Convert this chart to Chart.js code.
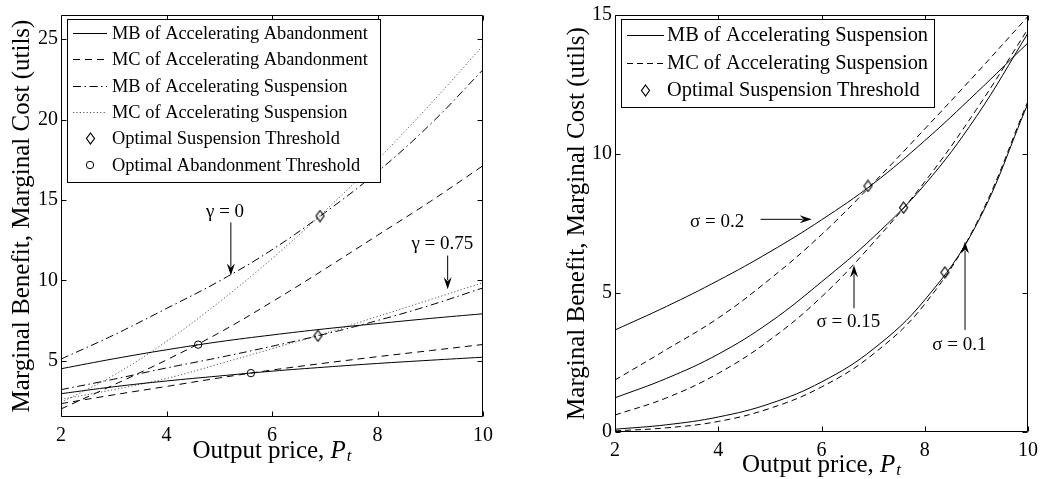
<!DOCTYPE html>
<html>
<head>
<meta charset="utf-8">
<script src="https://cdn.jsdelivr.net/npm/chart.js@4.4.1/dist/chart.umd.min.js"></script>
<style>
html,body{margin:0;padding:0;background:#fff;}
#wrap{position:relative;width:1045px;height:479px;overflow:hidden;}
#left{position:absolute;left:0;top:0;}
#right{position:absolute;left:540px;top:0;}
</style>
</head>
<body>
<div id="wrap">
<canvas id="left" width="520" height="479"></canvas>
<canvas id="right" width="505" height="479"></canvas>
</div>
<script>
// ---- data ----
const prices = [2,3,4,5,6,7,8,9,10];
const xTicks = [2,4,6,8,10];
const leftYTicks = [5,10,15,20,25];
const rightYTicks = [0,5,10,15];

// left panel, gamma = 0
const mbAbandG0 = [4.5, 5.12, 5.68, 6.18, 6.6, 6.98, 7.31, 7.63, 7.92];
const mcAbandG0 = [2.0, 3.5, 5.05, 6.74, 8.66, 10.7, 12.8, 14.9, 17.13];
const mbSuspG0  = [5.1, 6.6, 8.25, 9.95, 11.9, 14.2, 16.75, 19.7, 23.1];
const mcSuspG0  = [2.4, 4.1, 6.2, 8.65, 11.35, 14.3, 17.5, 20.95, 24.6];
// left panel, gamma = 0.75
const mbAbandG75 = [2.95, 3.38, 3.74, 4.05, 4.35, 4.6, 4.83, 5.03, 5.22];
const mcAbandG75 = [2.33, 2.88, 3.4, 3.93, 4.42, 4.85, 5.25, 5.63, 6.01];
const mbSuspG75  = [3.2, 3.85, 4.55, 5.2, 5.9, 6.65, 7.5, 8.45, 9.53];
const mcSuspG75  = [2.6, 3.2, 3.9, 4.8, 5.75, 6.7, 7.75, 8.8, 9.85];
// thresholds (left)
const suspThreshPriceL = [6.91, 6.87];
const suspThreshValueL = [14.0, 6.55];
const abandThreshPriceL = [4.6, 5.6];
const abandThreshValueL = [6.0, 4.23];

// right panel
const mbS20 = [3.67, 4.52, 5.45, 6.48, 7.63, 8.93, 10.48, 12.2, 14.0];
const mcS20 = [1.87, 2.97, 4.1, 5.5, 7.1, 8.95, 10.9, 12.9, 14.95];
const mbS15 = [1.23, 1.93, 2.8, 3.95, 5.4, 7.0, 8.9, 11.35, 14.35];
const mcS15 = [0.61, 1.23, 2.11, 3.31, 4.86, 6.8, 9.0, 11.6, 14.5];
const mbS10 = [0.1, 0.26, 0.54, 1.02, 1.8, 2.98, 4.75, 7.45, 11.82];
const mcS10 = [0.04, 0.15, 0.38, 0.85, 1.62, 2.8, 4.6, 7.5, 11.9];
const suspThreshPriceR = [6.9, 7.59, 8.39];
const suspThreshValueR = [8.85, 8.07, 5.74];

// text notes with arrows, in data units
const leftNotes = [
  {text:'γ = 0',    tx:5.11, ty:14.27, from:[5.22,13.6],  to:[5.22,10.3]},
  {text:'γ = 0.75', tx:9.23, ty:12.27, from:[9.33,11.54], to:[9.33,9.45]}
];
const rightNotes = [
  {text:'σ = 0.2',  tx:3.98, ty:7.57, from:[4.82,7.65], to:[5.81,7.65]},
  {text:'σ = 0.15', tx:6.52, ty:3.97, from:[6.63,4.45], to:[6.63,6.0]},
  {text:'σ = 0.1',  tx:8.67, ty:3.13, from:[8.78,3.67], to:[8.78,6.85]}
];

// ---- helpers ----
const FONT = '"Liberation Serif", "Times New Roman", serif';
const DASH = [7,5];
const DASHDOT = [8,3.5,1.5,3.5];
const DOT = [1.2,2.2];

function series(values){ return values.map((v,i)=>({x:prices[i], y:v})); }
function points(xs, ys){ return xs.map((x,i)=>({x:x, y:ys[i]})); }

// tall diamond marker like matlab 'd'
const diamond = document.createElement('canvas');
diamond.width = 11; diamond.height = 13;
(function(){
  const c = diamond.getContext('2d');
  c.strokeStyle = '#000'; c.lineWidth = 1.2;
  c.beginPath();
  c.moveTo(5.5,1); c.lineTo(9.5,6.5); c.lineTo(5.5,12); c.lineTo(1.5,6.5); c.closePath();
  c.stroke();
})();

function curve(label, values, dash, color){
  return {type:'line', label:label, data:series(values), borderColor:color||'#000',
    borderWidth:1, borderDash:dash||[], pointRadius:0, fill:false,
    tension:0.4, order:2};
}
function markers(label, xs, ys, style){
  return {type:'scatter', label:label, data:points(xs,ys), showLine:false,
    pointStyle:style, pointRadius:style==='circle'?3.7:5, pointHoverRadius:0,
    pointBorderColor:'#000', pointBackgroundColor:'rgba(0,0,0,0)', pointBorderWidth:1, order:1};
}

const framePlugin = {
  id:'frame',
  afterDatasetsDraw(chart){
    const {ctx, chartArea:a, scales:{x, y}} = chart;
    ctx.save();
    ctx.strokeStyle = '#000'; ctx.lineWidth = 1;
    const L = Math.round(a.left)+0.5, R = Math.round(a.right)-0.5;
    const T = Math.round(a.top)+0.5, B = Math.round(a.bottom)-0.5;
    ctx.beginPath();
    ctx.rect(L, T, R-L, B-T);
    x.ticks.forEach(t=>{
      const px = Math.round(x.getPixelForValue(t.value))+0.5;
      ctx.moveTo(px,B); ctx.lineTo(px,B-5);
      ctx.moveTo(px,T); ctx.lineTo(px,T+5);
    });
    y.ticks.forEach(t=>{
      const py = Math.round(y.getPixelForValue(t.value))+0.5;
      ctx.moveTo(L,py); ctx.lineTo(L+5,py);
      ctx.moveTo(R,py); ctx.lineTo(R-5,py);
    });
    ctx.stroke();
    ctx.restore();
  }
};

const notesPlugin = {
  id:'notes',
  afterDatasetsDraw(chart, args, opts){
    const {ctx, scales:{x, y}} = chart;
    ctx.save();
    ctx.fillStyle = '#000'; ctx.strokeStyle = '#000'; ctx.lineWidth = 1;
    ctx.font = '19px ' + FONT;
    ctx.textAlign = 'center'; ctx.textBaseline = 'middle';
    (opts.items||[]).forEach(n=>{
      ctx.fillText(n.text, x.getPixelForValue(n.tx), y.getPixelForValue(n.ty));
      const x0 = x.getPixelForValue(n.from[0]), y0 = y.getPixelForValue(n.from[1]);
      const x1 = x.getPixelForValue(n.to[0]), y1 = y.getPixelForValue(n.to[1]);
      const ang = Math.atan2(y1-y0, x1-x0);
      const hl = 12, hw = 4;
      const bx = x1 - hl*Math.cos(ang), by = y1 - hl*Math.sin(ang);
      ctx.beginPath(); ctx.moveTo(x0,y0); ctx.lineTo(bx+3*Math.cos(ang),by+3*Math.sin(ang)); ctx.stroke();
      ctx.beginPath();
      ctx.moveTo(x1,y1);
      ctx.lineTo(bx + hw*Math.sin(ang), by - hw*Math.cos(ang));
      ctx.lineTo(bx + 4*Math.cos(ang), by + 4*Math.sin(ang));
      ctx.lineTo(bx - hw*Math.sin(ang), by + hw*Math.cos(ang));
      ctx.closePath(); ctx.fill();
    });
    ctx.restore();
  }
};

const xTitlePlugin = {
  id:'xTitle',
  afterDraw(chart, args, opts){
    const {ctx, chartArea:a} = chart;
    ctx.save();
    ctx.fillStyle = '#000'; ctx.textBaseline = 'middle'; ctx.textAlign = 'left';
    const main = 'Output price, ';
    ctx.font = '25px ' + FONT; const w1 = ctx.measureText(main).width;
    ctx.font = 'italic 25px ' + FONT; const w2 = ctx.measureText('P').width;
    ctx.font = 'italic 17px ' + FONT; const w3 = ctx.measureText('t').width;
    let cx = (a.left + a.right)/2 - (w1+w2+w3+1)/2;
    const cy = opts.y;
    ctx.font = '25px ' + FONT; ctx.fillText(main, cx, cy); cx += w1;
    ctx.font = 'italic 25px ' + FONT; ctx.fillText('P', cx, cy); cx += w2 + 1;
    ctx.font = 'italic 17px ' + FONT; ctx.fillText('t', cx, cy + 6);
    ctx.restore();
  }
};

const legendPlugin = {
  id:'boxLegend',
  afterDraw(chart, args, o){
    const {ctx} = chart;
    ctx.save();
    ctx.fillStyle = '#fff'; ctx.fillRect(o.left, o.top, o.width, o.height);
    ctx.strokeStyle = '#000'; ctx.lineWidth = 1;
    ctx.strokeRect(o.left+0.5, o.top+0.5, o.width, o.height);
    ctx.font = o.fontSize + 'px ' + FONT; ctx.textBaseline = 'middle'; ctx.textAlign = 'left';
    let row = 0;
    chart.data.datasets.forEach(ds=>{
      if (!ds.label) return;
      const cy = o.top + o.firstRow + row*o.rowGap;
      if (ds.type === 'line') {
        ctx.strokeStyle = ds.borderColor; ctx.setLineDash(ds.borderDash);
        ctx.beginPath(); ctx.moveTo(o.sampleFrom, Math.round(cy)+0.5); ctx.lineTo(o.sampleTo, Math.round(cy)+0.5); ctx.stroke();
        ctx.setLineDash([]);
      } else {
        const mx = (o.sampleFrom + o.sampleTo)/2;
        if (ds.pointStyle === 'circle') {
          ctx.strokeStyle = '#000'; ctx.beginPath(); ctx.arc(mx, cy, 3.7, 0, Math.PI*2); ctx.stroke();
        } else {
          ctx.drawImage(ds.pointStyle, Math.round(mx-5.5), Math.round(cy-6.5));
        }
      }
      ctx.fillStyle = '#000';
      ctx.fillText(ds.label, o.textX, cy + 1);
      row++;
    });
    ctx.restore();
  }
};

function axes(yMin, yMax, yTicks, yWidth, xHeight, titlePad){
  return {
    x:{type:'linear', min:2, max:10,
      afterBuildTicks: s=>{ s.ticks = xTicks.map(v=>({value:v})); },
      afterFit: s=>{ s.height = xHeight; },
      grid:{display:false, drawTicks:false}, border:{display:false},
      ticks:{color:'#000', padding:7, font:{family:FONT, size:20}}},
    y:{type:'linear', min:yMin, max:yMax,
      afterBuildTicks: s=>{ s.ticks = yTicks.map(v=>({value:v})); },
      afterFit: s=>{ s.width = yWidth; },
      grid:{display:false, drawTicks:false}, border:{display:false},
      ticks:{color:'#000', padding:3, font:{family:FONT, size:20}},
      title:{display:true, text:'Marginal Benefit, Marginal Cost (utils)', color:'#000',
        font:{family:FONT, size:25}, padding:{top:titlePad, bottom:0}}}
  };
}

const common = {
  responsive:false, animation:false, devicePixelRatio:1,
  events:[],
};

new Chart(document.getElementById('left'), {
  type:'line',
  data:{datasets:[
    curve('MB of Accelerating Abandonment', mbAbandG0),
    curve('MC of Accelerating Abandonment', mcAbandG0, DASH),
    curve('MB of Accelerating Suspension', mbSuspG0, DASHDOT),
    curve('MC of Accelerating Suspension', mcSuspG0, DOT, '#555'),
    markers('Optimal Suspension Threshold', suspThreshPriceL, suspThreshValueL, diamond),
    markers('Optimal Abandonment Threshold', abandThreshPriceL, abandThreshValueL, 'circle'),
    curve('', mbAbandG75),
    curve('', mcAbandG75, DASH),
    curve('', mbSuspG75, DASHDOT),
    curve('', mcSuspG75, DOT, '#555')
  ]},
  options:Object.assign({}, common, {
    layout:{padding:{left:0, top:14, right:37, bottom:0}},
    scales:axes(1.5, 26.5, leftYTicks, 61, 62, 7),
    plugins:{
      legend:{display:false}, tooltip:{enabled:false},
      notes:{items:leftNotes},
      xTitle:{y:451},
      boxLegend:{left:67, top:19, width:313, height:163, firstRow:14, rowGap:26.4,
        sampleFrom:73, sampleTo:107, textX:112, fontSize:18.4}
    }
  }),
  plugins:[framePlugin, notesPlugin, xTitlePlugin, legendPlugin]
});

new Chart(document.getElementById('right'), {
  type:'line',
  data:{datasets:[
    curve('MB of Accelerating Suspension', mbS20),
    curve('MC of Accelerating Suspension', mcS20, [6,4]),
    markers('Optimal Suspension Threshold', suspThreshPriceR, suspThreshValueR, diamond),
    curve('', mbS15),
    curve('', mcS15, [6,4]),
    curve('', mbS10),
    curve('', mcS10, [6,4])
  ]},
  options:Object.assign({}, common, {
    layout:{padding:{left:0, top:15, right:14, bottom:0}},
    scales:axes(0, 15, rightYTicks, 75, 47, 22),
    plugins:{
      legend:{display:false}, tooltip:{enabled:false},
      notes:{items:rightNotes},
      xTitle:{y:465},
      boxLegend:{left:81, top:19, width:313, height:88, firstRow:16, rowGap:27.5,
        sampleFrom:87, sampleTo:124, textX:127, fontSize:20.4}
    }
  }),
  plugins:[framePlugin, notesPlugin, xTitlePlugin, legendPlugin]
});
</script>
</body>
</html>
